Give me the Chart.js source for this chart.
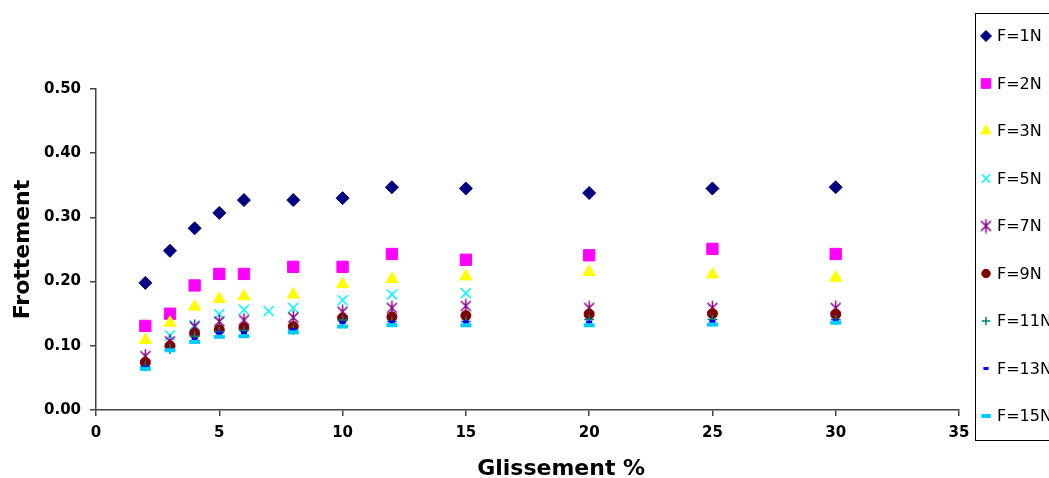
<!DOCTYPE html>
<html>
<head>
<meta charset="utf-8">
<script src="https://cdn.jsdelivr.net/npm/chart.js@4.4.1/dist/chart.umd.min.js"></script>
<style>
  html, body { margin: 0; padding: 0; background: #fff; overflow: hidden; }
  #wrap { width: 1049px; height: 478px; }
</style>
</head>
<body>
<div id="wrap"><canvas id="myChart" width="1049" height="478"></canvas></div>
<script>
// Glissement (%) - x values
const glissement = [2, 3, 4, 5, 6, 7, 8, 10, 12, 15, 20, 25, 30];

// Frottement for each force (null = no point)
const f1N  = [0.198, 0.248, 0.283, 0.307, 0.327, null, 0.327, 0.330, 0.347, 0.345, 0.338, 0.345, 0.347];
const f2N  = [0.131, 0.150, 0.194, 0.212, 0.212, null, 0.223, 0.223, 0.243, 0.234, 0.241, 0.251, 0.243];
const f3N  = [0.109, 0.136, 0.161, 0.173, 0.177, null, 0.180, 0.196, 0.204, 0.208, 0.215, 0.211, 0.206];
const f5N  = [null,  0.116, 0.132, 0.149, 0.156, 0.154, 0.159, 0.171, 0.180, 0.182, null,  null,  null ];
const f7N  = [0.084, 0.107, 0.130, 0.138, 0.140, null, 0.144, 0.153, 0.159, 0.162, 0.159, 0.159, 0.159];
const f9N  = [0.074, 0.100, 0.119, 0.125, 0.128, null, 0.130, 0.143, 0.145, 0.147, 0.149, 0.150, 0.149];
const f11N = [0.068, 0.095, 0.115, 0.122, 0.124, null, 0.125, 0.140, 0.138, 0.138, 0.141, 0.141, 0.141];
const f13N = [0.067, 0.094, 0.110, 0.120, 0.120, null, 0.125, 0.136, 0.137, 0.137, 0.137, 0.138, 0.139];
const f15N = [0.064, 0.093, 0.106, 0.114, 0.115, null, 0.121, 0.130, 0.132, 0.132, 0.132, 0.133, 0.136];

const forceLabels = ['F=1N', 'F=2N', 'F=3N', 'F=5N', 'F=7N', 'F=9N', 'F=11N', 'F=13N', 'F=15N'];
const forceValues = [f1N, f2N, f3N, f5N, f7N, f9N, f11N, f13N, f15N];

const xTicks = [0, 5, 10, 15, 20, 25, 30, 35];
const yTicks = [0, 0.1, 0.2, 0.3, 0.4, 0.5];

const xTitle = 'Glissement %';
const yTitle = 'Frottement';

// excel-like asterisk marker (X + vertical bar)
const makeStar = (color) => {
    const c = document.createElement('canvas');
    c.width = 13;
    c.height = 15;
    const g = c.getContext('2d');
    g.strokeStyle = color;
    g.lineWidth = 1.5;
    g.beginPath();
    g.moveTo(1.5, 2.5); g.lineTo(11.5, 12.5);
    g.moveTo(11.5, 2.5); g.lineTo(1.5, 12.5);
    g.moveTo(6.5, 0.5); g.lineTo(6.5, 14.5);
    g.stroke();
    return c;
};

const markers = [
    { color: '#000080', style: 'rectRot', radius: 6.5, border: 1 },
    { color: '#FF00FF', style: 'rect', radius: 8, border: 1 },
    { color: '#FFFF00', style: 'triangle', radius: 7, border: 1 },
    { color: '#00FFFF', style: 'crossRot', radius: 7, border: 1.5 },
    { color: '#800080', style: makeStar('#800080'), radius: 6, border: 1 },
    { color: '#800000', style: 'circle', radius: 5, border: 1 },
    { color: '#008080', style: 'cross', radius: 5, border: 1.5 },
    { color: '#0000FF', style: 'line', radius: 3, border: 3 },
    { color: '#00CCFF', style: 'line', radius: 5.5, border: 4 }
];

const datasets = forceLabels.map((label, i) => ({
    label: label,
    data: glissement
        .map((x, j) => ({ x: x, y: forceValues[i][j] }))
        .filter(p => p.y !== null),
    showLine: false,
    pointStyle: markers[i].style,
    pointRadius: markers[i].radius,
    pointHoverRadius: markers[i].radius,
    pointBorderWidth: markers[i].border,
    backgroundColor: markers[i].color,
    borderColor: markers[i].color,
    borderWidth: markers[i].border,
    order: forceLabels.length - i
}));

// legend drawn in a framed box like the excel one
const legendBox = {
    id: 'legendBox',
    afterDraw(chart) {
        const ctx = chart.ctx;
        ctx.save();
        ctx.strokeStyle = '#000';
        ctx.lineWidth = 1;
        ctx.strokeRect(975.5, 13.5, 120, 427);
        ctx.font = '16px "DejaVu Sans"';
        ctx.textBaseline = 'middle';
        chart.data.datasets.forEach((ds, i) => {
            const y = 36 + i * 47.5;
            ctx.fillStyle = ds.backgroundColor;
            ctx.strokeStyle = ds.borderColor;
            ctx.lineWidth = ds.borderWidth;
            Chart.helpers.drawPoint(ctx, {
                pointStyle: ds.pointStyle,
                radius: ds.pointRadius * 0.85,
                borderWidth: ds.borderWidth,
                rotation: 0
            }, 986, y);
            ctx.fillStyle = '#000';
            ctx.fillText(ds.label, 997, y + 1);
        });
        ctx.restore();
    }
};

// x axis title, sits a bit right of centre in the original
const xAxisTitle = {
    id: 'xAxisTitle',
    afterDraw(chart) {
        const ctx = chart.ctx;
        const area = chart.chartArea;
        ctx.save();
        ctx.font = 'bold 22px "DejaVu Sans"';
        ctx.fillStyle = '#000';
        ctx.textAlign = 'center';
        ctx.textBaseline = 'alphabetic';
        ctx.fillText(xTitle, area.left + (area.right - area.left) * 0.539, 475);
        ctx.restore();
    }
};

const axisGrid = {
    display: true,
    drawOnChartArea: false,
    drawTicks: true,
    tickLength: 6,
    color: '#444',
    lineWidth: 1.5
};

const ctx = document.getElementById('myChart');
const chart = new Chart(ctx, {
    type: 'scatter',
    data: { datasets: datasets },
    options: {
        responsive: false,
        animation: false,
        devicePixelRatio: 1,
        layout: { padding: { top: 89, right: 90, left: 0, bottom: 0 } },
        plugins: {
            legend: { display: false },
            tooltip: { enabled: false }
        },
        scales: {
            x: {
                type: 'linear',
                min: 0,
                max: 35,
                afterBuildTicks: (scale) => { scale.ticks = xTicks.map(v => ({ value: v })); },
                afterFit: (scale) => { scale.height = 68; },
                grid: axisGrid,
                border: { display: true, color: '#444', width: 1.5 },
                ticks: {
                    color: '#000',
                    padding: 8,
                    maxRotation: 0,
                    font: { family: '"DejaVu Sans"', size: 15, weight: 'bold' }
                },
                title: { display: false }
            },
            y: {
                type: 'linear',
                min: 0,
                max: 0.5,
                afterBuildTicks: (scale) => { scale.ticks = yTicks.map(v => ({ value: v })); },
                afterFit: (scale) => { scale.width = 96; },
                grid: axisGrid,
                border: { display: true, color: '#444', width: 1.5 },
                ticks: {
                    color: '#000',
                    padding: 9,
                    callback: (v) => v.toFixed(2),
                    font: { family: '"DejaVu Sans"', size: 15, weight: 'bold' }
                },
                title: {
                    display: true,
                    text: yTitle,
                    color: '#000',
                    padding: { top: 10, bottom: 0 },
                    font: { family: '"DejaVu Sans"', size: 22, weight: 'bold' }
                }
            }
        }
    },
    plugins: [legendBox, xAxisTitle]
});
</script>
</body>
</html>
